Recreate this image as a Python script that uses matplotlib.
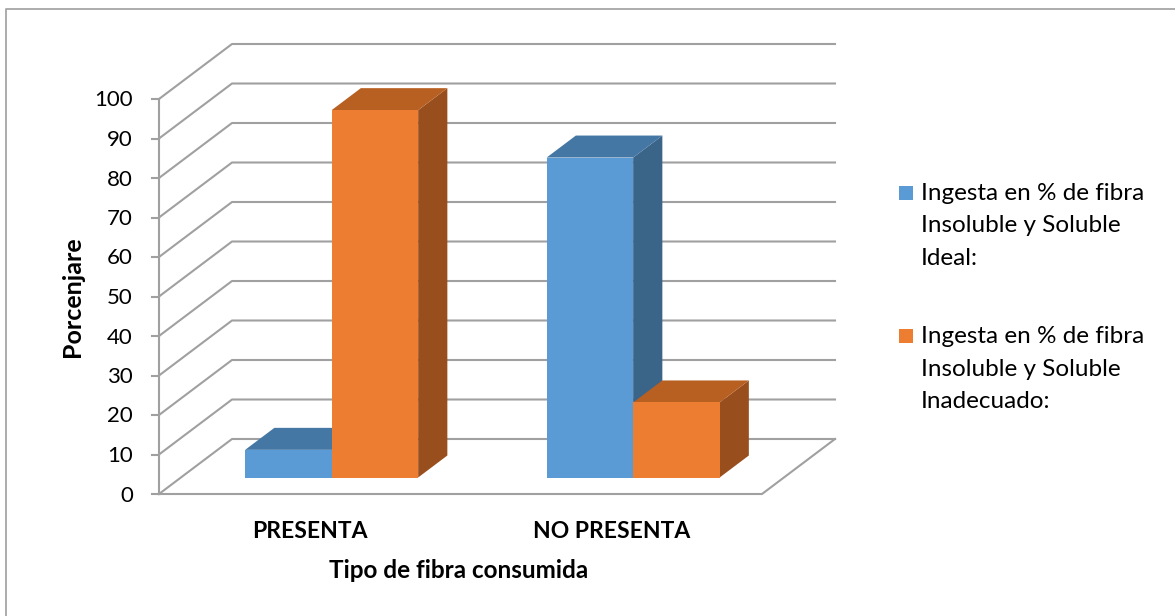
import matplotlib.pyplot as plt
from matplotlib.patches import Polygon, Rectangle

plt.rcParams['font.family'] = ['Lato', 'DejaVu Sans']

categories = ['PRESENTA', 'NO PRESENTA']
ideal = [7, 81]
inadecuado = [93, 19]
series_names = ['Ingesta en % de fibra\nInsoluble y Soluble\nIdeal:',
                'Ingesta en % de fibra\nInsoluble y Soluble\nInadecuado:']
yticks = list(range(0, 101, 10))

# colours per series: front, top, side
front_cols = ['#5b9bd5', '#ed7d31']
top_cols = ['#4577a5', '#b85f22']
side_cols = ['#3b6489', '#994f1d']
grid_col = '#a0a0a0'

# oblique projection of the plot box (pixels)
X0, Y0 = 159, 494          # front-left corner at value 0
PX_PER_UNIT = 3.95
DEPTH_DX, DEPTH_DY = 73, -55
CAT_W = 301.5
BAR_W = 86.5
Z_FRONT, Z_BACK = 0.3, 0.7
YMAX = 100


def proj(xf, val, z):
    # xf: horizontal pixel in the front plane, val: data value, z: depth 0..1
    return (xf + z * DEPTH_DX, Y0 - val * PX_PER_UNIT + z * DEPTH_DY)


fig = plt.figure(figsize=(11.75, 6.16), dpi=100)
ax = fig.add_axes([0, 0, 1, 1])
ax.set_xlim(0, 1175)
ax.set_ylim(616, 0)
ax.axis('off')

# outer frame
ax.plot([6, 6, 1175], [616, 9, 9], color='#a6a6a6', lw=1.3)

x_end = X0 + CAT_W * len(categories)

# back wall gridlines and left wall diagonals
for t in yticks:
    fx, fy = proj(X0, t, 0)
    bx, by = proj(X0, t, 1)
    ex, ey = proj(x_end, t, 1)
    ax.plot([fx, bx, ex], [fy, by, ey], color=grid_col, lw=1.5, zorder=1)
    ax.plot([fx - 7, fx], [fy, fy], color=grid_col, lw=1.5, zorder=1)
    ax.text(133, fy + 7.5, str(t), ha='right', va='baseline', fontsize=16)

# floor
fl = [proj(X0, 0, 0), proj(x_end, 0, 0), proj(x_end, 0, 1)]
ax.plot([p[0] for p in fl], [p[1] for p in fl], color=grid_col, lw=1.5, zorder=1)
# vertical axis line
a0 = proj(X0, 0, 0)
a1 = proj(X0, YMAX, 0)
ax.plot([a0[0], a1[0]], [a0[1], a1[1]], color=grid_col, lw=1.5, zorder=1)

# bars
z = 2
for i, cat in enumerate(categories):
    center = X0 + CAT_W * (i + 0.5)
    for s, vals in enumerate([ideal, inadecuado]):
        v = vals[i]
        xl = center - BAR_W + s * BAR_W
        xr = xl + BAR_W
        side = [proj(xr, 0, Z_FRONT), proj(xr, 0, Z_BACK),
                proj(xr, v, Z_BACK), proj(xr, v, Z_FRONT)]
        top = [proj(xl, v, Z_FRONT), proj(xl, v, Z_BACK),
               proj(xr, v, Z_BACK), proj(xr, v, Z_FRONT)]
        front = [proj(xl, 0, Z_FRONT), proj(xr, 0, Z_FRONT),
                 proj(xr, v, Z_FRONT), proj(xl, v, Z_FRONT)]
        for pts, col in [(side, side_cols[s]), (top, top_cols[s]),
                         (front, front_cols[s])]:
            ax.add_patch(Polygon(pts, closed=True, facecolor=col,
                                 edgecolor='none', zorder=z))
            z += 1
    ax.text(center, 538, cat, ha='center', va='baseline',
            fontsize=16.5, fontweight='bold')

ax.text(459, 578, 'Tipo de fibra consumida', ha='center', va='baseline',
        fontsize=17.5, fontweight='bold')
ax.text(72, 297, 'Porcenjare', ha='center', va='center', rotation=90,
        fontsize=18, fontweight='bold')

# legend
for s, name in enumerate(series_names):
    base = 200 + s * 143
    ax.add_patch(Rectangle((899, base - 14), 14, 14, facecolor=front_cols[s],
                           edgecolor='none'))
    for k, line in enumerate(name.split('\n')):
        ax.text(921, base + k * 32.5, line, ha='left', va='baseline',
                fontsize=17.5)

fig.savefig('out.png', dpi=100)
